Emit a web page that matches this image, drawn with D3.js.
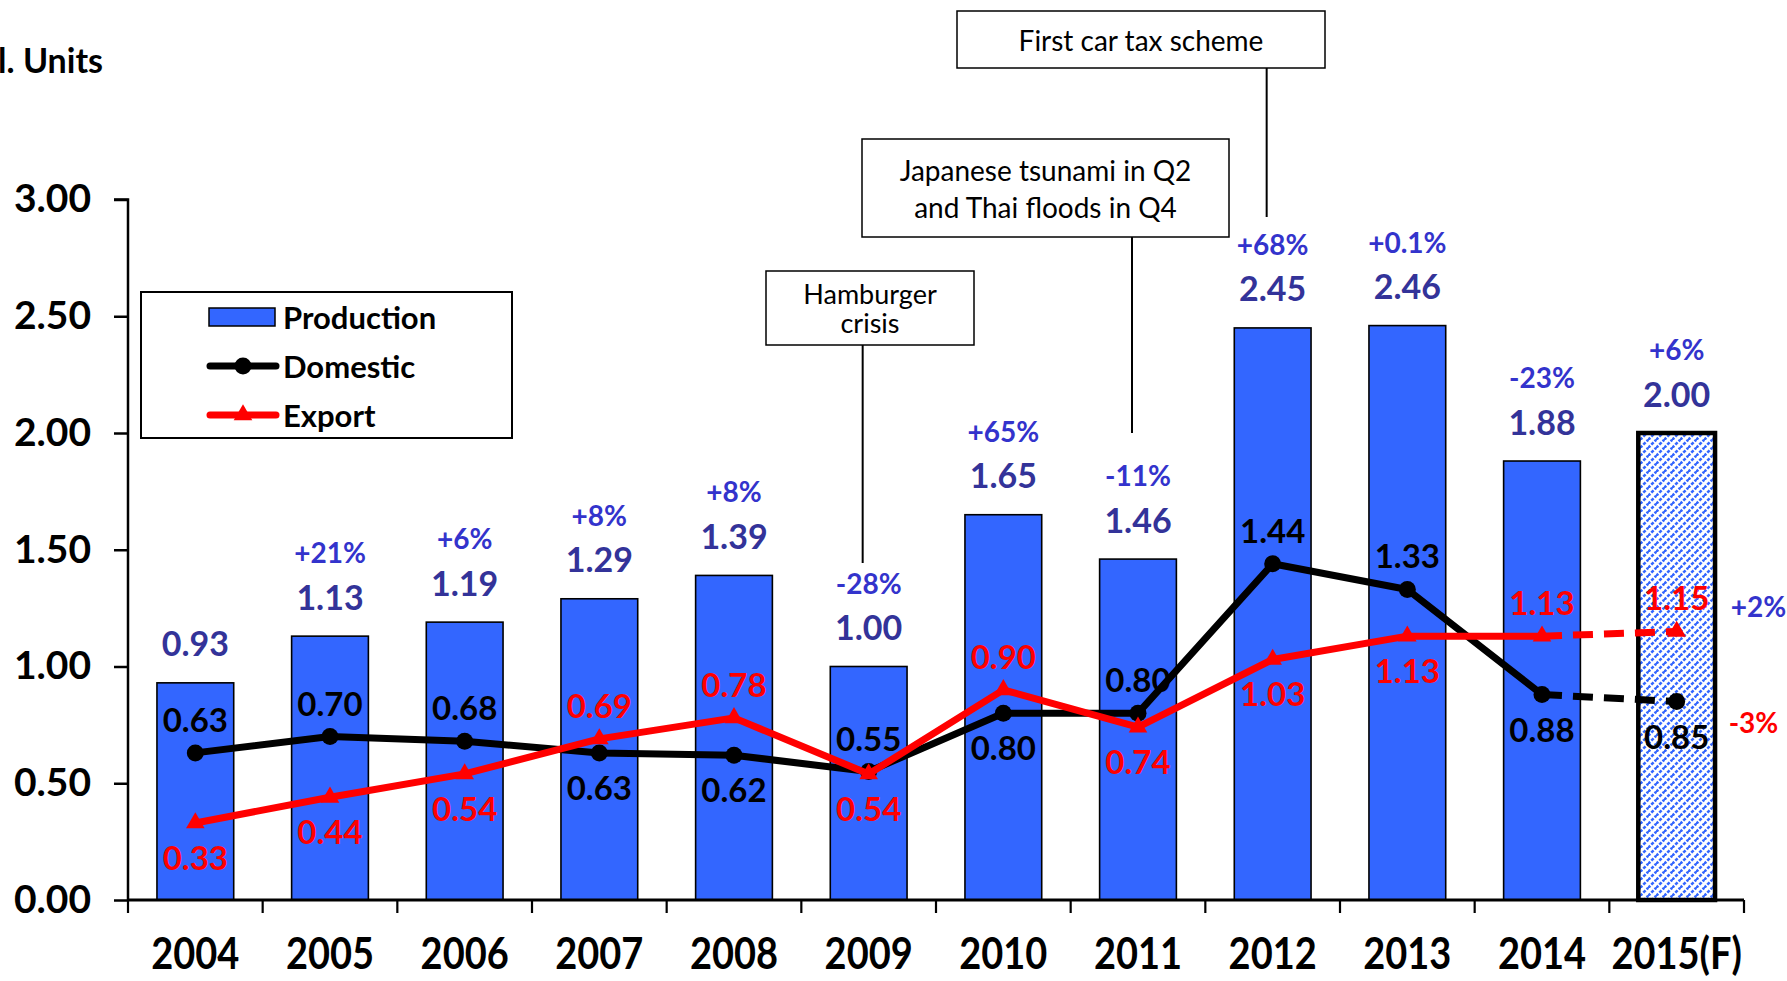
<!DOCTYPE html>
<html>
<head>
<meta charset="utf-8">
<script src="https://cdn.jsdelivr.net/npm/d3@7"></script>
<style>
  body { margin: 0; background: #fff; }
  svg { display: block; font-family: Lato, "Open Sans", sans-serif; }
</style>
</head>
<body>
<div class="chart"></div>
<script>
// data
const years = ['2004', '2005', '2006', '2007', '2008', '2009', '2010', '2011', '2012', '2013', '2014', '2015(F)'];
const production = [0.93, 1.13, 1.19, 1.29, 1.39, 1.00, 1.65, 1.46, 2.45, 2.46, 1.88, 2.00];
const prodGrowth = ['', '+21%', '+6%', '+8%', '+8%', '-28%', '+65%', '-11%', '+68%', '+0.1%', '-23%', '+6%'];
const domestic = [0.63, 0.70, 0.68, 0.63, 0.62, 0.55, 0.80, 0.80, 1.44, 1.33, 0.88, 0.85];
const exportVals = [0.33, 0.44, 0.54, 0.69, 0.78, 0.54, 0.90, 0.74, 1.03, 1.13, 1.13, 1.15];
const yTicks = [0, 0.5, 1.0, 1.5, 2.0, 2.5, 3.0];
const forecastGrowth = {domestic: '-3%', export: '+2%'};
const unitLabel = 'Mil. Units';
const legendItems = ['Production', 'Domestic', 'Export'];

// 주석 박스 (연도, 텍스트)
const notes = [
  {year: '2009', text: ['Hamburger', 'crisis']},
  {year: '2011', text: ['Japanese tsunami in Q2', 'and Thai floods in Q4']},
  {year: '2012', text: ['First car tax scheme']}
];

const width = 1787, height = 981;
const [ml, mr, mt, mb] = [128, 43, 199.5, 81];

const blue = '#3366ff';
const valueBlue = '#333399';
const pctBlue = '#3333cc';
const red = '#ff0000';

const svg = d3.select('.chart').append('svg')
  .attr('width', width)
  .attr('height', height);

// 2015(F) 빗금 패턴
const defs = svg.append('defs');
const pat = defs.append('pattern')
  .attr('id', 'hatch')
  .attr('patternUnits', 'userSpaceOnUse')
  .attr('width', 8).attr('height', 8);
pat.append('rect').attr('width', 8).attr('height', 8).attr('fill', '#fff');
pat.append('path')
  .attr('d', 'M-2,2 L2,-2 M0,8 L8,0 M6,10 L10,6')
  .attr('stroke', blue)
  .attr('stroke-width', 2.6)
  .attr('stroke-dasharray', '3.2,1.5');

const x = d3.scaleBand()
  .domain(years)
  .range([ml, width - mr])
  .padding(0);

const y = d3.scaleLinear()
  .domain([0, 3])
  .range([height - mb, mt]);

const barW = x.bandwidth() * 0.57;
const cx = d => x(d) + x.bandwidth() / 2;
const isF = d => d.endsWith('(F)');

// bars
svg.append('g').selectAll('rect')
  .data(years)
  .join('rect')
  .attr('x', d => cx(d) - barW / 2)
  .attr('y', (d, i) => y(production[i]))
  .attr('width', barW)
  .attr('height', (d, i) => y(0) - y(production[i]))
  .attr('fill', d => isF(d) ? 'url(#hatch)' : blue)
  .attr('stroke', '#000')
  .attr('stroke-width', d => isF(d) ? 4.5 : 1.6);

// axes
const yAxisG = svg.append('g')
  .attr('transform', `translate(${ml},0)`)
  .call(d3.axisLeft(y).tickValues(yTicks).tickSize(14).tickPadding(23).tickFormat(d3.format('.2f')));
yAxisG.select('.domain').attr('stroke-width', 2.5).attr('d', `M-14,${y(3)}H0V${y(0)}`);
yAxisG.selectAll('.tick line').attr('stroke-width', 2.5);
yAxisG.selectAll('.tick text')
  .attr('font-size', 39).attr('font-weight', 'bold').attr('fill', '#000')
  .attr('font-family', 'Lato, sans-serif');

const xAxisG = svg.append('g');
xAxisG.append('line')
  .attr('x1', ml).attr('x2', width - mr)
  .attr('y1', y(0)).attr('y2', y(0))
  .attr('stroke', '#000').attr('stroke-width', 3);
const bounds = years.map(d => x(d)).concat([x(years[years.length - 1]) + x.bandwidth()]);
xAxisG.selectAll('.xtick')
  .data(bounds)
  .join('line')
  .attr('x1', d => d).attr('x2', d => d)
  .attr('y1', y(0)).attr('y2', y(0) + 13)
  .attr('stroke', '#000').attr('stroke-width', 2.2);
xAxisG.selectAll('text')
  .data(years)
  .join('text')
  .attr('transform', d => `translate(${cx(d)},${952}) scale(1,1.15)`)
  .attr('text-anchor', 'middle')
  .attr('dominant-baseline', 'central')
  .attr('font-size', 38).attr('font-weight', 'bold')
  .text(d => d);

// unit label
svg.append('text')
  .attr('x', 103).attr('y', 59)
  .attr('text-anchor', 'end')
  .attr('dominant-baseline', 'central')
  .attr('font-size', 34).attr('font-weight', 'bold')
  .text(unitLabel);

// annotation boxes
const noteBoxes = [
  {x: 766, y: 271, w: 208, h: 74, lineY2: 563, lh: 29},
  {x: 862, y: 139, w: 367, h: 98, lineY2: 433, lh: 37},
  {x: 957, y: 11, w: 368, h: 57, lineY2: 217, lh: 30}
];
notes.forEach((n, i) => {
  const b = noteBoxes[i];
  const g = svg.append('g');
  g.append('rect')
    .attr('x', b.x).attr('y', b.y).attr('width', b.w).attr('height', b.h)
    .attr('fill', '#fff').attr('stroke', '#000').attr('stroke-width', 1.5);
  const lx = cx(n.year) - 6;
  g.append('line')
    .attr('x1', lx).attr('x2', lx)
    .attr('y1', b.y + b.h).attr('y2', b.lineY2)
    .attr('stroke', '#000').attr('stroke-width', 2);
  const y0 = b.y + b.h / 2 - (n.text.length - 1) * b.lh / 2;
  n.text.forEach((t, j) => {
    g.append('text')
      .attr('x', b.x + b.w / 2).attr('y', y0 + j * b.lh)
      .attr('text-anchor', 'middle')
      .attr('dominant-baseline', 'central')
      .attr('font-size', i === 0 ? 27 : 28)
      .text(t);
  });
});

// lines
const lastI = years.length - 1;
const lineGen = d3.line().x(d => d[0]).y(d => d[1]);
const drawSeries = (vals, color) => {
  const pts = years.map((d, i) => [cx(d), y(vals[i])]);
  svg.append('path')
    .attr('d', lineGen(pts.slice(0, lastI)))
    .attr('fill', 'none').attr('stroke', color).attr('stroke-width', 7)
    .attr('stroke-linejoin', 'round');
  svg.append('path')
    .attr('d', lineGen(pts.slice(lastI - 1)))
    .attr('fill', 'none').attr('stroke', color).attr('stroke-width', 7)
    .attr('stroke-dasharray', '20,11');
  return pts;
};
const domPts = drawSeries(domestic, '#000');
svg.append('g').selectAll('circle')
  .data(domPts)
  .join('circle')
  .attr('cx', d => d[0]).attr('cy', d => d[1]).attr('r', 8.5)
  .attr('fill', '#000');
const expPts = drawSeries(exportVals, red);
const tri = d3.symbol().type(d3.symbolTriangle).size(150);
svg.append('g').selectAll('path')
  .data(expPts)
  .join('path')
  .attr('transform', d => `translate(${d[0]},${d[1]})`)
  .attr('d', tri)
  .attr('fill', red);

// production labels
svg.append('g').selectAll('text')
  .data(years)
  .join('text')
  .attr('x', d => cx(d))
  .attr('y', (d, i) => y(production[i]) - 40)
  .attr('text-anchor', 'middle').attr('dominant-baseline', 'central')
  .attr('font-size', 34).attr('font-weight', 'bold').attr('fill', valueBlue)
  .text((d, i) => production[i].toFixed(2));
svg.append('g').selectAll('text')
  .data(years)
  .join('text')
  .attr('x', d => cx(d))
  .attr('y', (d, i) => y(production[i]) - 84)
  .attr('text-anchor', 'middle').attr('dominant-baseline', 'central')
  .attr('font-size', 28).attr('font-weight', 'bold').attr('fill', pctBlue)
  .text((d, i) => prodGrowth[i]);

// domestic / export labels : 큰 값은 위, 작은 값은 아래
const off = 34;
svg.append('g').selectAll('text')
  .data(years)
  .join('text')
  .attr('x', d => cx(d))
  .attr('y', (d, i) => y(domestic[i]) + (domestic[i] >= exportVals[i] ? -off : off))
  .attr('text-anchor', 'middle').attr('dominant-baseline', 'central')
  .attr('font-size', 33).attr('font-weight', 'bold').attr('fill', '#000')
  .text((d, i) => domestic[i].toFixed(2));
svg.append('g').selectAll('text')
  .data(years)
  .join('text')
  .attr('x', d => cx(d))
  .attr('y', (d, i) => y(exportVals[i]) + (exportVals[i] > domestic[i] ? -off : off))
  .attr('text-anchor', 'middle').attr('dominant-baseline', 'central')
  .attr('font-size', 33).attr('font-weight', 'bold').attr('fill', red)
  .text((d, i) => exportVals[i].toFixed(2));

// forecast growth
svg.append('text')
  .attr('x', cx(years[lastI]) + 54).attr('y', y(exportVals[lastI]) - 25)
  .attr('dominant-baseline', 'central')
  .attr('font-size', 28).attr('font-weight', 'bold').attr('fill', pctBlue)
  .text(forecastGrowth.export);
svg.append('text')
  .attr('x', cx(years[lastI]) + 52).attr('y', y(domestic[lastI]) + 20)
  .attr('dominant-baseline', 'central')
  .attr('font-size', 28).attr('font-weight', 'bold').attr('fill', red)
  .text(forecastGrowth.domestic);

// legend
const lg = svg.append('g');
lg.append('rect')
  .attr('x', 141).attr('y', 292).attr('width', 371).attr('height', 146)
  .attr('fill', '#fff').attr('stroke', '#000').attr('stroke-width', 2);
const rowY = [317, 366, 415];
lg.append('rect')
  .attr('x', 209).attr('y', rowY[0] - 9).attr('width', 66).attr('height', 18)
  .attr('fill', blue).attr('stroke', '#000').attr('stroke-width', 1.5);
lg.append('line')
  .attr('x1', 210).attr('x2', 276).attr('y1', rowY[1]).attr('y2', rowY[1])
  .attr('stroke', '#000').attr('stroke-width', 7).attr('stroke-linecap', 'round');
lg.append('circle').attr('cx', 243).attr('cy', rowY[1]).attr('r', 8.5).attr('fill', '#000');
lg.append('line')
  .attr('x1', 210).attr('x2', 276).attr('y1', rowY[2]).attr('y2', rowY[2])
  .attr('stroke', red).attr('stroke-width', 7).attr('stroke-linecap', 'round');
lg.append('path')
  .attr('transform', `translate(243,${rowY[2]})`)
  .attr('d', tri).attr('fill', red);
lg.selectAll('text')
  .data(legendItems)
  .join('text')
  .attr('x', 283).attr('y', (d, i) => rowY[i])
  .attr('dominant-baseline', 'central')
  .attr('font-size', 31).attr('font-weight', 'bold')
  .text(d => d);
</script>
</body>
</html>
